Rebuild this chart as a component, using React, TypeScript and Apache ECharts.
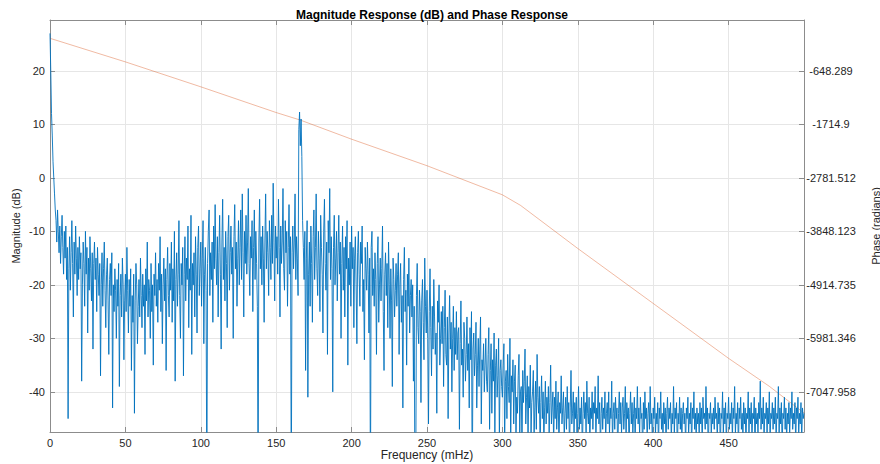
import React, { useEffect, useRef } from 'react';
import * as echarts from 'echarts';

// Frequency step of the magnitude samples (mHz)
const freqStep = 0.5;

// Magnitude response (dB), two samples per mHz from 0 to 500 (each row = 10 mHz)
const magnitudeDb = [
  27, 20, 12, 8, 3, 0, -3, -6, -8, -12, -6, -10, -14, -9, -16, -11, -7, -13, -18, -10,
  -15, -9, -19, -13, -45, -17, -11, -21, -14, -8, -16, -26, -12, -18, -9, -15, -22, -13, -19, -11,
  -17, -14, -38, -20, -12, -16, -24, -10, -18, -13, -29, -15, -21, -11, -17, -23, -14, -32, -16, -12,
  -19, -15, -25, -13, -18, -22, -16, -37, -20, -14, -24, -17, -12, -21, -28, -18, -15, -23, -33, -19,
  -16, -22, -14, -43, -20, -25, -17, -21, -30, -19, -24, -16, -39, -22, -18, -26, -15, -20, -34, -23,
  -18, -25, -13, -21, -29, -19, -24, -17, -36, -22, -27, -18, -44, -23, -16, -20, -31, -24, -19, -26,
  -15, -22, -28, -18, -24, -20, -33, -17, -23, -12, -26, -19, -21, -30, -16, -25, -20, -35, -18, -22,
  -14, -24, -19, -27, -16, -21, -11, -25, -18, -31, -20, -15, -23, -17, -36, -19, -13, -22, -26, -16,
  -21, -12, -27, -17, -23, -10, -38, -19, -14, -24, -18, -8, -22, -30, -16, -20, -13, -37, -18, -11,
  -23, -15, -19, -9, -28, -17, -21, -7, -33, -16, -20, -14, -26, -11, -18, -29, -13, -9, -22, -17,
  -12, -24, -15, -8, -31, -18, -13, -21, -60, -16, -10, -6, -22, -14, -19, -12, -27, -9, -17, -5,
  -15, -20, -11, -26, -14, -7, -18, -32, -12, -4, -19, -13, -23, -10, -16, -28, -11, -7, -21, -14,
  -9, -18, -13, -30, -11, -5, -17, -12, -24, -15, -8, -20, -13, -6, -19, -3, -14, -26, -10, -16,
  -7, -18, -12, -2, -16, -22, -11, -15, -8, -25, -13, -6, -19, -10, -16, -24, -60, -12, -4, -17,
  -11, -20, -9, -15, -27, -12, -3, -17, -10, -14, -22, -8, -13, -19, -7, -16, -1, -12, -23, -9,
  -15, -11, -18, -4, -13, -26, -9, -16, -12, -2, -17, -21, -8, -14, -10, -24, -13, -5, -18, -11,
  -60, -14, -9, -17, -12, -3, -19, -11, -15, -22, 9, 12.3, 6, 11, 4, -8, -13, -19, -10, -36,
  -15, -8, -41, -18, -12, -24, -9, -16, -27, -11, -6, -19, -13, -3, -17, -22, -10, -15, -25, -7,
  -13, -18, -29, -10, -4, -16, -21, -12, -33, -8, -14, -2, -19, -11, -17, -40, -13, -7, -20, -15,
  -10, -23, -14, -7, -18, -12, -30, -16, -9, -21, -13, -26, -11, -17, -8, -35, -15, -20, -12, -24,
  -9, -17, -13, -28, -15, -11, -20, -31, -14, -10, -18, -24, -12, -16, -9, -25, -19, -34, -13, -17,
  -21, -12, -18, -29, -15, -60, -13, -10, -22, -17, -24, -14, -19, -33, -16, -11, -27, -20, -15, -23,
  -17, -9, -25, -36, -18, -14, -22, -16, -28, -12, -20, -30, -17, -23, -39, -15, -19, -26, -21, -16,
  -24, -18, -14, -33, -20, -16, -27, -22, -43, -19, -13, -25, -21, -35, -18, -24, -15, -29, -22, -19,
  -26, -20, -38, -24, -60, -60, -22, -16, -28, -31, -21, -25, -42, -23, -19, -27, -34, -15, -24, -29,
  -21, -30, -46, -25, -17, -28, -37, -24, -32, -19, -26, -33, -29, -44, -23, -27, -20, -35, -30, -25,
  -31, -24, -39, -28, -21, -33, -35, -26, -45, -29, -22, -32, -27, -40, -30, -24, -36, -28, -33, -25,
  -34, -29, -28, -47, -31, -23, -35, -32, -41, -27, -30, -38, -33, -26, -36, -31, -43, -28, -34, -25,
  -60, -32, -29, -37, -33, -27, -43, -35, -30, -39, -32, -26, -46, -34, -36, -31, -40, -35, -30, -38,
  -40, -33, -28, -47, -36, -31, -44, -34, -38, -29, -48, -35, -32, -41, -37, -30, -49, -36, -34, -39,
  -41, -35, -31, -50, -38, -36, -45, -33, -39, -42, -30, -50, -37, -40, -34, -46, -38, -35, -49, -41,
  -44, -37, -33, -48, -40, -39, -52, -36, -42, -38, -32, -46, -41, -37, -50, -39, -43, -35, -48, -42,
  -40, -36, -49, -43, -38, -47, -33, -41, -44, -39, -52, -42, -37, -45, -40, -50, -43, -38, -46, -41,
  -44, -39, -48, -42, -35, -46, -43, -40, -50, -41, -45, -38, -47, -43, -40, -52, -42, -44, -37, -46,
  -43, -40, -49, -44, -41, -47, -39, -45, -42, -51, -43, -36, -46, -44, -40, -48, -42, -45, -41, -50,
  -44, -39, -47, -43, -46, -41, -52, -44, -40, -45, -42, -48, -38, -44, -46, -41, -50, -43, -45, -40,
  -47, -42, -44, -39, -49, -43, -45, -37, -46, -42, -51, -44, -41, -47, -43, -45, -40, -49, -44, -42,
  -46, -40, -48, -43, -45, -38, -50, -44, -42, -47, -41, -45, -43, -52, -44, -40, -46, -42, -48, -43,
  -41, -47, -44, -39, -49, -42, -45, -43, -51, -44, -40, -46, -42, -48, -44, -41, -50, -43, -45, -39,
  -46, -43, -48, -41, -45, -44, -52, -42, -47, -40, -45, -43, -49, -44, -42, -47, -39, -46, -44, -50,
  -43, -45, -41, -48, -44, -46, -42, -51, -43, -45, -40, -47, -44, -49, -42, -46, -43, -50, -44, -41,
  -47, -43, -45, -42, -49, -44, -46, -39, -48, -43, -45, -42, -52, -44, -46, -41, -47, -43, -49, -44,
  -42, -46, -44, -50, -43, -45, -41, -48, -44, -46, -42, -51, -43, -45, -40, -47, -44, -49, -43, -46,
  -44, -48, -42, -46, -43, -50, -41, -45, -44, -47, -39, -46, -43, -52, -44, -45, -42, -48, -44, -46,
  -43, -47, -41, -45, -44, -49, -42, -46, -43, -51, -44, -45, -40, -48, -43, -46, -42, -50, -44, -45,
  -41, -47, -44, -46, -42, -49, -43, -45, -39, -48, -44, -46, -42, -51, -43, -45, -41, -47, -44, -49,
  -42, -46, -43, -50, -44, -45, -40, -48, -43, -46, -42, -49, -44, -45, -41, -52, -43, -46, -44, -48,
  -42, -45, -38, -47, -43, -46, -41, -49, -44, -45, -42, -48, -43, -46, -40, -50, -44, -45, -42, -47,
  -43, -46, -41, -49, -44, -45, -39, -48, -43, -46, -42, -51, -44, -45, -41, -47, -43, -49, -44, -46,
  -42, -48, -43, -45, -40, -47, -44, -46, -42, -50, -43, -45, -41, -48, -44, -46, -42, -49, -43, -45,
  -44,
];

// Phase response (radians)
const phaseFreq = [0, 50, 100, 150, 166, 200, 250, 300, 312, 350, 400, 450, 477, 500];
const phaseRad = [0, -470, -967, -1480, -1630, -2011, -2540, -3120, -3330, -4190, -5285, -6380, -6937, -7470];

// Tick values
const dbTicks = [-40, -30, -20, -10, 0, 10, 20];
const phaseTicks = [-7047.958, -5981.346, -4914.735, -3848.123, -2781.512, -1714.9, -648.289];

const DB_MIN = -47.5;
const DB_MAX = 29.5;

const FONT = '"Liberation Sans", Arial, Helvetica, sans-serif';
const AXIS_COLOR = '#8c8c8c';
const GRID_COLOR = '#e6e6e6';
const TEXT_COLOR = '#262626';

export default function App() {
  const ref = useRef<HTMLDivElement>(null);

  useEffect(() => {
    if (!ref.current) return;
    const chart = echarts.init(ref.current, null, { renderer: 'svg' });

    // right axis aligned with left: linear mapping between dB ticks and phase ticks
    const phasePerDb = (phaseTicks[6] - phaseTicks[0]) / (dbTicks[6] - dbTicks[0]);
    const phaseMin = phaseTicks[0] + (DB_MIN - dbTicks[0]) * phasePerDb;
    const phaseMax = phaseTicks[0] + (DB_MAX - dbTicks[0]) * phasePerDb;

    const magData = magnitudeDb.map((v, i) => [i * freqStep, v]);
    const phaseData = phaseFreq.map((f, i) => [f, phaseRad[i]]);

    chart.setOption({
      animation: false,
      backgroundColor: '#ffffff',
      textStyle: { fontFamily: FONT },
      title: {
        text: 'Magnitude Response (dB) and Phase Response',
        left: 427,
        top: 4,
        textAlign: 'center',
        textStyle: { fontSize: 12, fontWeight: 'bold', color: '#000', fontFamily: FONT },
      },
      grid: { left: 50, right: 76, top: 20, bottom: 32, containLabel: false, outerBoundsMode: 'none' },
      xAxis: [
        {
          type: 'value',
          position: 'bottom',
          min: 0,
          max: 500,
          interval: 50,
          name: 'Frequency (mHz)',
          nameLocation: 'middle',
          nameGap: 17,
          nameMoveOverlap: false,
          nameTextStyle: { fontSize: 12, color: TEXT_COLOR, fontFamily: FONT },
          axisLine: { show: true, onZero: false, lineStyle: { color: AXIS_COLOR, width: 1 } },
          axisTick: { show: true, inside: true, length: 5, lineStyle: { color: AXIS_COLOR } },
          axisLabel: { color: TEXT_COLOR, fontSize: 11, margin: 5, showMaxLabel: false, fontFamily: FONT },
          splitLine: { show: true, lineStyle: { color: GRID_COLOR, width: 1 } },
        },
        {
          type: 'value',
          position: 'top',
          min: 0,
          max: 500,
          interval: 50,
          axisLine: { show: true, onZero: false, lineStyle: { color: AXIS_COLOR, width: 1 } },
          axisTick: { show: true, inside: true, length: 5, lineStyle: { color: AXIS_COLOR } },
          axisLabel: { show: false },
          splitLine: { show: false },
        },
      ],
      yAxis: [
        {
          type: 'value',
          position: 'left',
          min: DB_MIN,
          max: DB_MAX,
          name: 'Magnitude (dB)',
          nameLocation: 'middle',
          nameGap: 29,
          nameRotate: 90,
          nameMoveOverlap: false,
          nameTextStyle: { fontSize: 11, color: TEXT_COLOR, fontFamily: FONT },
          axisLine: { show: true, onZero: false, lineStyle: { color: AXIS_COLOR, width: 1 } },
          axisTick: { show: true, inside: true, length: 5, customValues: dbTicks, lineStyle: { color: AXIS_COLOR } },
          axisLabel: { color: TEXT_COLOR, fontSize: 11, margin: 5, customValues: dbTicks, fontFamily: FONT },
          splitLine: { show: true, lineStyle: { color: GRID_COLOR, width: 1 } },
        },
        {
          type: 'value',
          position: 'right',
          min: phaseMin,
          max: phaseMax,
          name: 'Phase (radians)',
          nameLocation: 'middle',
          nameGap: 66,
          nameRotate: 90,
          nameMoveOverlap: false,
          nameTextStyle: { fontSize: 11, color: TEXT_COLOR, fontFamily: FONT },
          axisLine: { show: true, onZero: false, lineStyle: { color: AXIS_COLOR, width: 1 } },
          axisTick: { show: true, inside: true, length: 5, customValues: phaseTicks, lineStyle: { color: AXIS_COLOR } },
          axisLabel: {
            color: TEXT_COLOR,
            fontSize: 11,
            margin: 27,
            align: 'center',
            customValues: phaseTicks,
            fontFamily: FONT,
            formatter: (v: number) => String(Number(v.toFixed(3))),
          },
          splitLine: { show: false },
        },
      ],
      series: [
        {
          name: 'Phase',
          type: 'line',
          xAxisIndex: 0,
          yAxisIndex: 1,
          data: phaseData,
          symbol: 'none',
          smooth: false,
          lineStyle: { color: '#D95319', width: 0.8, opacity: 0.5 },
          z: 2,
        },
        {
          name: 'Magnitude',
          type: 'line',
          xAxisIndex: 0,
          yAxisIndex: 0,
          data: magData,
          symbol: 'none',
          clip: true,
          lineStyle: { color: '#0072BD', width: 0.9 },
          z: 3,
        },
      ],
    });

    return () => chart.dispose();
  }, []);

  return (
    <div
      ref={ref}
      style={{ position: 'fixed', left: 0, top: 0, width: 880, height: 464, background: '#fff' }}
    />
  );
}
